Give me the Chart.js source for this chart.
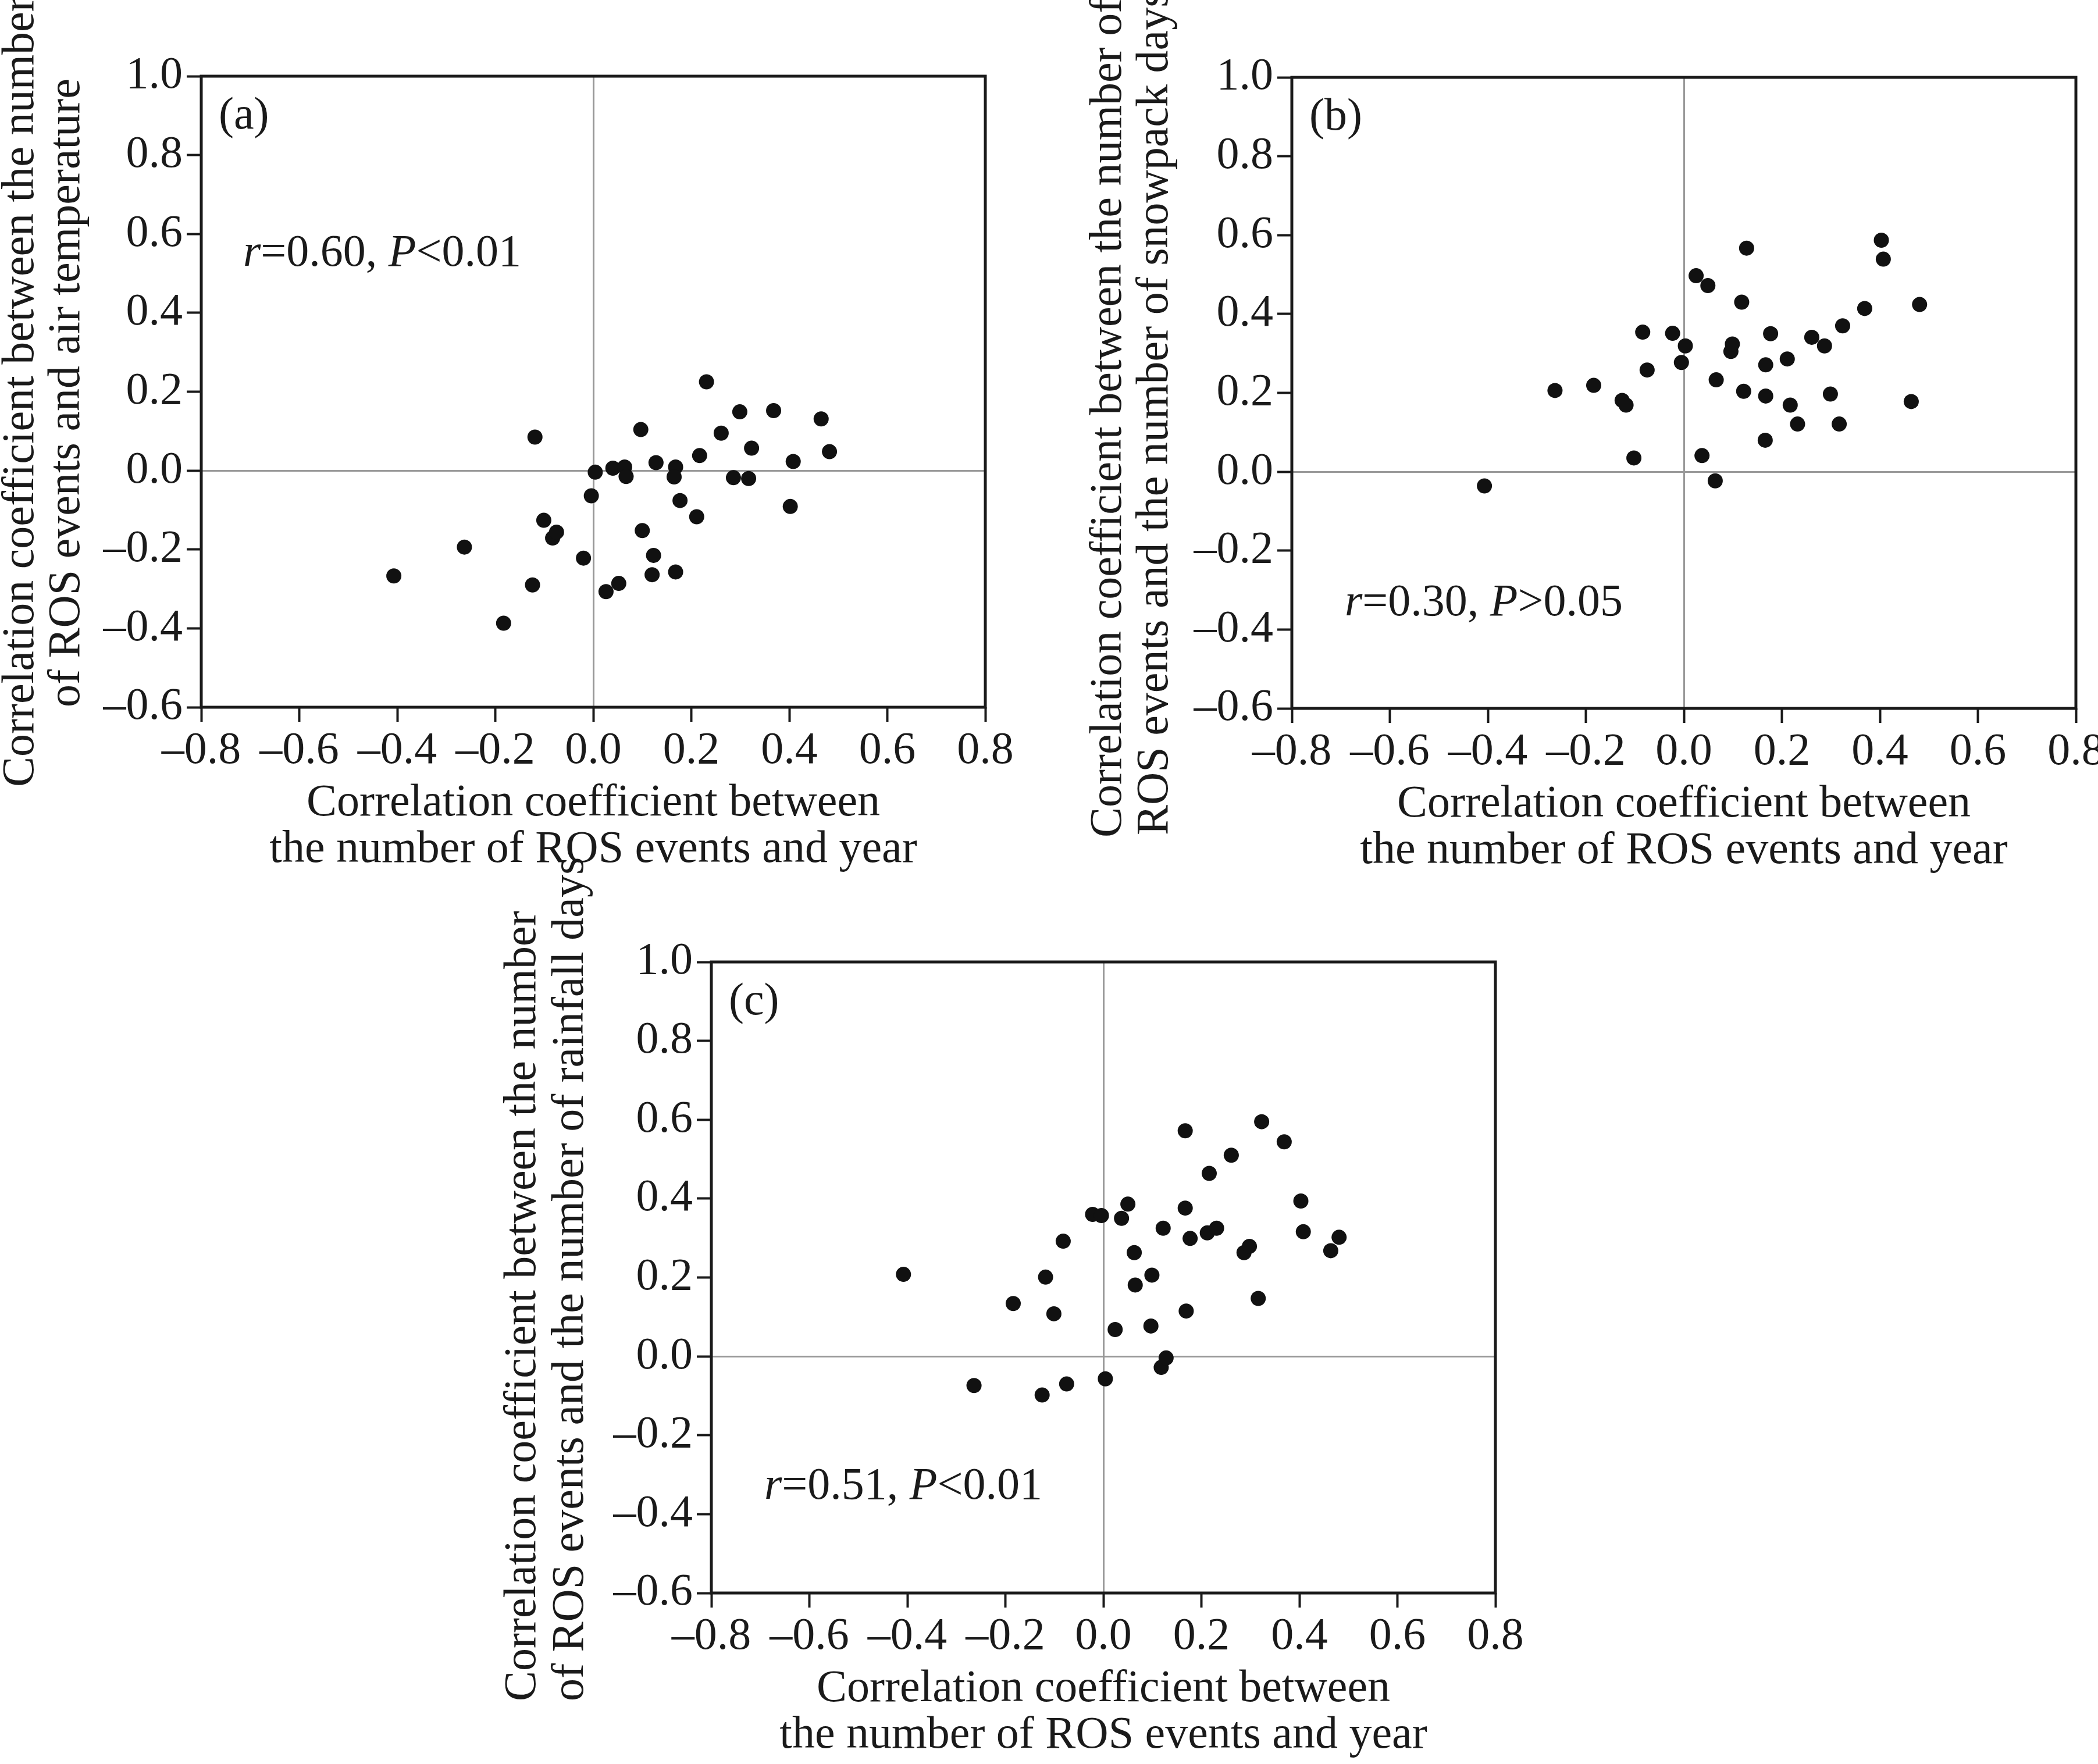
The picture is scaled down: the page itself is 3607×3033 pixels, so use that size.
<!DOCTYPE html>
<html>
<head>
<meta charset="utf-8">
<script src="https://cdn.jsdelivr.net/npm/chart.js@4/dist/chart.umd.min.js"></script>
<style>
html, body { margin: 0; padding: 0; background: #fff; overflow: hidden; width: 3607px; height: 3033px; }
#page { position: relative; width: 3607px; height: 3033px; overflow: hidden; background: #fff; }
canvas { position: absolute; }
</style>
</head>
<body>
<div id="page">
  <canvas id="panelA"></canvas>
  <canvas id="panelB"></canvas>
  <canvas id="panelC"></canvas>
</div>
<script>
// tick values shared by the three panels
var xTicks = [-0.8, -0.6, -0.4, -0.2, 0.0, 0.2, 0.4, 0.6, 0.8];
var yTicks = [-0.6, -0.4, -0.2, 0.0, 0.2, 0.4, 0.6, 0.8, 1.0];
var xTitle = ['Correlation coefficient between', 'the number of ROS events and year'];

// (a) air temperature
var airX = [-0.407, -0.263, -0.183, -0.124, -0.119, -0.101, -0.083, -0.075, -0.020, -0.004,
            0.004, 0.026, 0.040, 0.052, 0.064, 0.067, 0.097, 0.100, 0.120, 0.123,
            0.128, 0.168, 0.168, 0.165, 0.177, 0.211, 0.217, 0.231, 0.261, 0.286,
            0.299, 0.317, 0.323, 0.368, 0.402, 0.408, 0.465, 0.482];
var airY = [-0.267, -0.194, -0.387, -0.290, 0.085, -0.126, -0.171, -0.156, -0.222, -0.064,
            -0.004, -0.307, 0.006, -0.286, 0.009, -0.015, 0.104, -0.152, -0.264, -0.215,
            0.020, -0.257, 0.009, -0.016, -0.076, -0.117, 0.038, 0.225, 0.095, -0.018,
            0.149, -0.020, 0.057, 0.152, -0.091, 0.023, 0.131, 0.048];

// (b) snowpack days
var snowX = [-0.407, -0.263, -0.184, -0.126, -0.118, -0.102, -0.084, -0.075, -0.023, -0.005,
             0.003, 0.025, 0.037, 0.049, 0.064, 0.066, 0.096, 0.099, 0.118, 0.122,
             0.128, 0.166, 0.167, 0.167, 0.177, 0.211, 0.217, 0.232, 0.261, 0.287,
             0.299, 0.317, 0.324, 0.369, 0.403, 0.407, 0.464, 0.481];
var snowY = [-0.036, 0.206, 0.219, 0.181, 0.169, 0.035, 0.354, 0.258, 0.351, 0.277,
             0.319, 0.497, 0.041, 0.472, -0.023, 0.233, 0.305, 0.324, 0.430, 0.204,
             0.567, 0.080, 0.192, 0.271, 0.350, 0.286, 0.169, 0.121, 0.341, 0.319,
             0.197, 0.121, 0.370, 0.414, 0.587, 0.539, 0.178, 0.424];

// (c) rainfall days
var rainX = [-0.408, -0.264, -0.184, -0.125, -0.118, -0.101, -0.082, -0.075, -0.022, -0.004,
             0.004, 0.024, 0.037, 0.050, 0.063, 0.065, 0.097, 0.099, 0.118, 0.128,
             0.122, 0.167, 0.167, 0.169, 0.177, 0.212, 0.216, 0.231, 0.261, 0.287,
             0.298, 0.316, 0.323, 0.369, 0.403, 0.408, 0.464, 0.481];
var rainY = [0.208, -0.074, 0.134, -0.098, 0.201, 0.108, 0.292, -0.070, 0.360, 0.357,
             -0.057, 0.068, 0.350, 0.386, 0.263, 0.181, 0.077, 0.206, -0.028, -0.004,
             0.325, 0.572, 0.376, 0.115, 0.299, 0.313, 0.464, 0.325, 0.510, 0.263,
             0.279, 0.147, 0.595, 0.544, 0.394, 0.316, 0.268, 0.302];

var FONT = 'Liberation Serif';
var INK = '#1a1a1a';

var panels = [
  { id: 'panelA', tag: '(a)', r: '0.60', sign: '<', p: '0.01', xs: airX, ys: airY,
    left: 346, top: 131, padTop: 131, stat: [72, 326],
    yTitle: [['Correlation coefficient between the number', -289, 137],
             ['of ROS events and air temperature', -210, 0]] },
  { id: 'panelB', tag: '(b)', r: '0.30', sign: '>', p: '0.05', xs: snowX, ys: snowY,
    left: 2221, top: 133, padTop: 133, stat: [91, 925],
    yTitle: [['Correlation coefficient between the number of', -294, 222],
             ['ROS events and the number of snowpack days', -214, 218]] },
  { id: 'panelC', tag: '(c)', r: '0.51', sign: '<', p: '0.01', xs: rainX, ys: rainY,
    left: 1223, top: 1654, padTop: 200, stat: [91, 923],
    yTitle: [['Correlation coefficient between the number', -303, 186],
             ['of ROS events and the number of rainfall days', -221, 186]] }
];

var AXIS_W = 400, AREA_W = 1348, AREA_H = 1085, XAXIS_H = 286, PAD_R = 120;

function fmt(v) {
  return (v < -1e-9 ? '\u2013' : '') + Math.abs(v).toFixed(1);
}
function isZero(c) {
  return c.tick && Math.abs(c.tick.value) < 1e-9;
}

function panelPlugin(pn) {
  return {
    id: 'panelDeco',
    afterDraw: function (chart) {
      var ctx = chart.ctx, a = chart.chartArea;
      ctx.save();
      // frame
      ctx.strokeStyle = INK;
      ctx.lineWidth = 5;
      ctx.strokeRect(a.left, a.top, a.right - a.left, a.bottom - a.top);
      ctx.fillStyle = INK;
      ctx.textBaseline = 'alphabetic';
      ctx.textAlign = 'left';
      // panel tag
      ctx.font = '78px "' + FONT + '"';
      ctx.fillText(pn.tag, a.left + 30, a.top + 90);
      // r / P text
      var runs = [['r', true], ['=' + pn.r + ', ', false], ['P', true], [pn.sign + pn.p, false]];
      var x = a.left + pn.stat[0], y = a.top + pn.stat[1];
      runs.forEach(function (run) {
        ctx.font = (run[1] ? 'italic ' : '') + '78px "' + FONT + '"';
        ctx.fillText(run[0], x, y);
        x += ctx.measureText(run[0]).width;
      });
      // y axis title, two rotated lines
      ctx.font = '78px "' + FONT + '"';
      pn.yTitle.forEach(function (ln) {
        ctx.save();
        ctx.translate(a.left + ln[1], a.bottom + ln[2]);
        ctx.rotate(-Math.PI / 2);
        ctx.fillText(ln[0], 0, 0);
        ctx.restore();
      });
      ctx.restore();
    }
  };
}

panels.forEach(function (pn) {
  var cv = document.getElementById(pn.id);
  var w = AXIS_W + AREA_W + PAD_R;
  var h = pn.padTop + AREA_H + XAXIS_H;
  cv.width = w; cv.height = h;
  cv.style.width = w + 'px'; cv.style.height = h + 'px';
  cv.style.left = (pn.left - AXIS_W) + 'px';
  cv.style.top = (pn.top - pn.padTop) + 'px';

  var pts = pn.xs.map(function (x, i) { return { x: x, y: pn.ys[i] }; });

  new Chart(cv, {
    type: 'scatter',
    data: {
      datasets: [{
        data: pts,
        backgroundColor: '#111',
        borderWidth: 0,
        pointRadius: 13,
        pointHoverRadius: 13
      }]
    },
    options: {
      responsive: false,
      devicePixelRatio: 1,
      animation: false,
      layout: { padding: { top: pn.padTop, right: PAD_R, bottom: 0, left: 0 } },
      plugins: { legend: { display: false }, tooltip: { enabled: false } },
      scales: {
        x: {
          type: 'linear', position: 'bottom', min: -0.8, max: 0.8,
          afterBuildTicks: function (s) { s.ticks = xTicks.map(function (v) { return { value: v }; }); },
          afterFit: function (s) { s.height = XAXIS_H; },
          border: { display: false },
          grid: {
            color: function (c) { return isZero(c) ? '#999999' : 'rgba(0,0,0,0)'; },
            lineWidth: 3, tickColor: INK, tickWidth: 4, tickLength: 25
          },
          ticks: { color: INK, padding: 4, maxRotation: 0, autoSkip: false,
                   font: { family: FONT, size: 78, lineHeight: 1.2 }, callback: fmt },
          title: { display: true, text: xTitle, color: INK, padding: 0,
                   font: { family: FONT, size: 78, lineHeight: 80 / 78 } }
        },
        y: {
          type: 'linear', position: 'left', min: -0.6, max: 1.0,
          afterBuildTicks: function (s) { s.ticks = yTicks.map(function (v) { return { value: v }; }); },
          afterFit: function (s) { s.width = AXIS_W; },
          border: { display: false },
          grid: {
            color: function (c) { return isZero(c) ? '#999999' : 'rgba(0,0,0,0)'; },
            lineWidth: 3, tickColor: INK, tickWidth: 4, tickLength: 25
          },
          ticks: { color: INK, padding: 7, autoSkip: false,
                   font: { family: FONT, size: 78, lineHeight: 1.2 }, callback: fmt }
        }
      }
    },
    plugins: [panelPlugin(pn)]
  });
});
</script>
</body>
</html>
